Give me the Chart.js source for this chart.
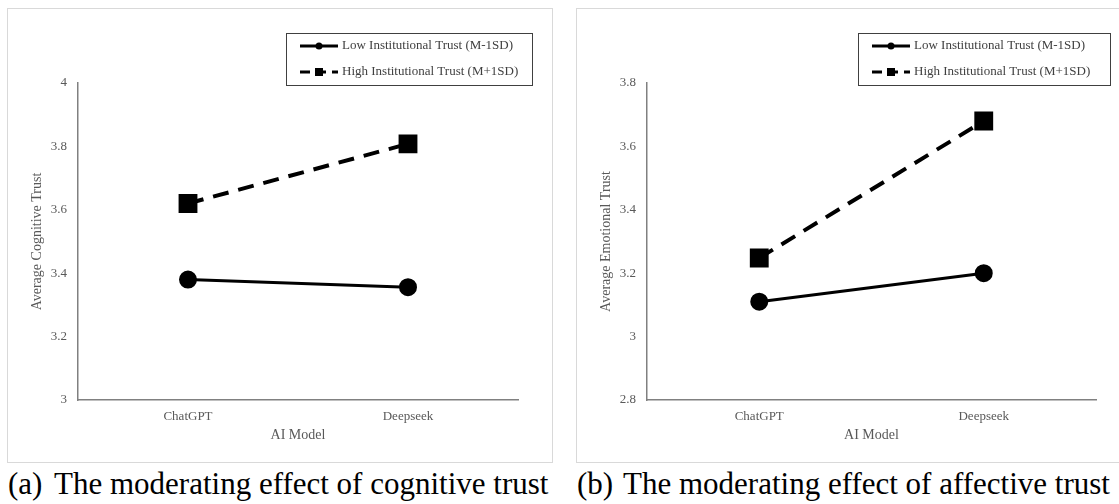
<!DOCTYPE html>
<html lang="en">
<head>
  <meta charset="UTF-8">
  <title>Moderating effect of institutional trust</title>
  <script src="https://cdn.jsdelivr.net/npm/chart.js"></script>
  <style>
    body {
      margin: 0;
      width: 1119px;
      height: 504px;
      overflow: hidden;
      background: #fff;
      font-family: "Liberation Serif", "Times New Roman", serif;
      position: relative;
    }
    .panel {
      position: absolute;
      top: 8px;
      width: 544px;
      height: 453px;
      border: 1px solid #d9d9d9;
      background: #fff;
    }
    .panel canvas {
      display: block;
    }
    .caption {
      position: absolute;
      top: 468px;
      font-size: 31px;
      line-height: 32px;
      color: #000;
      white-space: nowrap;
    }
    .caption .tag {
      display: inline-block;
      width: 46px;
    }
  </style>
</head>
<body>

  <div class="panel" style="left:7px"><canvas id="cognitive" width="544" height="453"></canvas></div>
  <div class="panel" style="left:576px"><canvas id="emotional" width="544" height="453"></canvas></div>

  <div class="caption" style="left:8px"><span class="tag">(a)</span>The moderating effect of cognitive trust</div>
  <div class="caption" style="left:577px"><span class="tag">(b)</span>The moderating effect of affective trust</div>

  <script>
    const categories = ['ChatGPT', 'Deepseek'];
    const seriesLabels = ['Low Institutional Trust (M-1SD)', 'High Institutional Trust (M+1SD)'];

    const cognitiveLow = [3.38, 3.356];
    const cognitiveHigh = [3.62, 3.808];
    const cognitiveAxis = { min: 3, max: 4, step: 0.2, title: 'Average Cognitive Trust' };

    const emotionalLow = [3.11, 3.2];
    const emotionalHigh = [3.248, 3.68];
    const emotionalAxis = { min: 2.8, max: 3.8, step: 0.2, title: 'Average Emotional Trust' };

    const xTitle = 'AI Model';
    const serif = '"Liberation Serif", "Times New Roman", serif';

    // legend drawn as a boxed key, like the original figure
    const boxLegend = {
      id: 'boxLegend',
      afterDraw(chart, args, opts) {
        const ctx = chart.ctx;
        const right = chart.width - opts.right;
        const left = right - opts.width;
        const top = 24;
        const bottom = 76;
        ctx.save();
        ctx.strokeStyle = '#404040';
        ctx.lineWidth = 1;
        ctx.strokeRect(left + 0.5, top + 0.5, right - left, bottom - top);
        chart.data.datasets.forEach((ds, i) => {
          const y = 37 + i * 26;
          const x0 = left + 14;
          const x1 = x0 + 38;
          ctx.strokeStyle = '#000';
          ctx.lineWidth = 3;
          ctx.setLineDash(ds.borderDash && ds.borderDash.length ? [10, 6] : []);
          ctx.beginPath();
          ctx.moveTo(x0, y);
          ctx.lineTo(x1, y);
          ctx.stroke();
          ctx.setLineDash([]);
          ctx.fillStyle = '#000';
          const cx = (x0 + x1) / 2;
          if (ds.pointStyle === 'rect') {
            ctx.fillRect(cx - 4, y - 4, 8, 8);
          } else {
            ctx.beginPath();
            ctx.arc(cx, y, 3.5, 0, Math.PI * 2);
            ctx.fill();
          }
          ctx.fillStyle = '#404040';
          ctx.font = '13px ' + serif;
          ctx.textBaseline = 'middle';
          ctx.fillText(ds.label, x1 + 4, y);
        });
        ctx.restore();
      }
    };

    function makeChart(id, low, high, axis, padRight, legendRight, legendWidth) {
      const ctx = document.getElementById(id).getContext('2d');
      return new Chart(ctx, {
        type: 'line',
        data: {
          labels: categories,
          datasets: [{
            label: seriesLabels[0],
            data: low,
            borderColor: '#000',
            backgroundColor: '#000',
            borderWidth: 3,
            pointStyle: 'circle',
            pointRadius: 7.5,
            pointHoverRadius: 7.5,
            fill: false
          }, {
            label: seriesLabels[1],
            data: high,
            borderColor: '#000',
            backgroundColor: '#000',
            borderWidth: 4,
            borderDash: [16, 10],
            pointStyle: 'rect',
            pointRadius: 10.5,
            pointHoverRadius: 10.5,
            fill: false
          }]
        },
        options: {
          responsive: false,
          animation: false,
          layout: { padding: { left: 17, right: padRight, top: 74, bottom: 14 } },
          plugins: {
            legend: { display: false },
            tooltip: { enabled: false },
            boxLegend: { right: legendRight, width: legendWidth }
          },
          scales: {
            x: {
              offset: true,
              grid: { display: false, drawTicks: false },
              border: { display: true, color: '#808080', width: 1.5 },
              ticks: { color: '#595959', padding: 9, font: { family: serif, size: 13 } },
              title: { display: true, text: xTitle, color: '#595959', padding: { top: 4, bottom: 4 }, font: { family: serif, size: 14 } },
              afterFit(scale) { scale.height = 48; }
            },
            y: {
              min: axis.min,
              max: axis.max,
              grid: { display: false, drawTicks: false },
              border: { display: true, color: '#808080', width: 1.5 },
              ticks: {
                stepSize: axis.step,
                color: '#595959',
                padding: 11,
                font: { family: serif, size: 13 },
                callback: v => String(+v.toFixed(1))
              },
              title: { display: true, text: axis.title, color: '#595959', padding: { top: 4, bottom: 4 }, font: { family: serif, size: 14 } },
              afterFit(scale) { scale.width = 53; }
            }
          }
        },
        plugins: [boxLegend]
      });
    }

    makeChart('cognitive', cognitiveLow, cognitiveHigh, cognitiveAxis, 34, 20, 246);
    makeChart('emotional', emotionalLow, emotionalHigh, emotionalAxis, 25, 11, 252);
  </script>

</body>
</html>
